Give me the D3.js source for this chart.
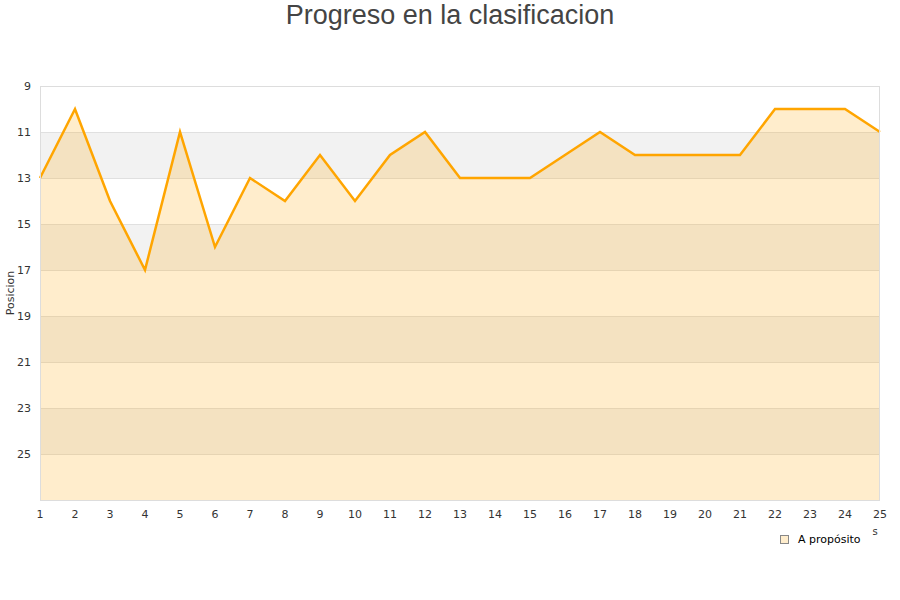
<!DOCTYPE html>
<html><head><meta charset="utf-8">
<script src="https://cdn.jsdelivr.net/npm/d3@7"></script>
<style>body{margin:0;background:#fff}svg{display:block}</style>
</head><body>
<svg id="c" width="900" height="600"></svg>
<script>
const jornadas = [1,2,3,4,5,6,7,8,9,10,11,12,13,14,15,16,17,18,19,20,21,22,23,24,25];
const posiciones = [13,10,14,17,11,16,13,14,12,14,12,11,13,13,13,12,11,12,12,12,12,10,10,10,11];
const yTicks = [9,11,13,15,17,19,21,23,25];
const seriesName = "A propósito";
const title = "Progreso en la clasificacion";
const yLabel = "Posicion";

const svg = d3.select("#c");
const L=40,R=880,T=86,B=500;
const x = d3.scaleLinear().domain([1,25]).range([L,R]);
const y = d3.scaleLinear().domain([9,27]).range([T,B]);

// bands
const bands = d3.range(9,27,2);
svg.selectAll("rect.band").data(bands).enter().append("rect")
  .attr("x",L).attr("width",R-L)
  .attr("y",d=>y(d)).attr("height",d=>y(d+2)-y(d))
  .attr("fill",(d,i)=>i%2===1?"#f2f2f2":"#ffffff");
// grid lines
svg.selectAll("line.grid").data(yTicks.slice(1)).enter().append("line")
  .attr("x1",L).attr("x2",R).attr("y1",d=>y(d)+0.5).attr("y2",d=>y(d)+0.5)
  .attr("stroke","#e0e0e0").attr("stroke-width",1);

// area
const area = d3.area().x((d,i)=>x(jornadas[i])).y0(y(27)).y1(d=>y(d));
svg.append("path").datum(posiciones).attr("d",area)
  .attr("fill","#ffa500").attr("fill-opacity",0.2);
const line = d3.line().x((d,i)=>x(jornadas[i])).y(d=>y(d));
svg.append("path").datum(posiciones).attr("d",line)
  .attr("fill","none").attr("stroke","#ffa500").attr("stroke-width",2.5).attr("stroke-linejoin","miter");

// border
svg.append("rect").attr("x",L+0.5).attr("y",T+0.5).attr("width",R-L-1).attr("height",B-T)
  .attr("fill","none").attr("stroke","#dddddd");

// axes labels
const font = "DejaVu Sans, Verdana, sans-serif";
svg.selectAll("text.yt").data(yTicks).enter().append("text")
  .attr("x",31).attr("y",d=>y(d)+4).attr("text-anchor","end")
  .attr("font-family",font).attr("font-size",11).attr("fill","#333").text(d=>d);
svg.selectAll("text.xt").data(jornadas).enter().append("text")
  .attr("x",d=>x(d)).attr("y",518).attr("text-anchor","middle")
  .attr("font-family",font).attr("font-size",11).attr("fill","#333").text(d=>d);

svg.append("text").attr("transform","translate(14,293) rotate(-90)").attr("text-anchor","middle")
  .attr("font-family",font).attr("font-size",11).attr("fill","#333").text(yLabel);

svg.append("text").attr("x",875).attr("y",535).attr("text-anchor","middle")
  .attr("font-family",font).attr("font-size",10).attr("fill","#333").text("s");

svg.append("text").attr("x",450).attr("y",24).attr("text-anchor","middle")
  .attr("font-family","Liberation Sans, Arial, sans-serif").attr("font-size",27).attr("fill","#444").text(title);

// legend
svg.append("rect").attr("x",780.5).attr("y",535.5).attr("width",8).attr("height",8)
  .attr("fill","#ffedcc").attr("stroke","#888");
svg.append("text").attr("x",798).attr("y",543).attr("font-family",font).attr("font-size",11)
  .attr("fill","#000").text(seriesName);
</script>
</body></html>
